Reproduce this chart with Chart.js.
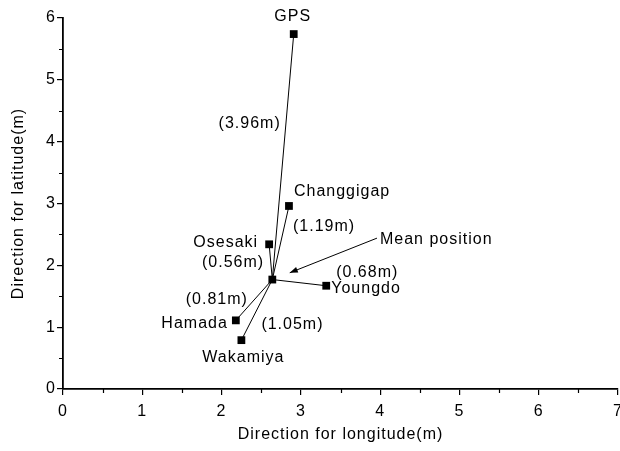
<!DOCTYPE html>
<html>
<head>
<meta charset="utf-8">
<script src="https://cdn.jsdelivr.net/npm/chart.js@4.4.1/dist/chart.umd.min.js"></script>
<style>
  html, body { margin: 0; padding: 0; background: #fff; }
  canvas { display: block; }
</style>
</head>
<body>
<canvas id="posChart" width="620" height="451"></canvas>
<script>
// station positions (m)
const stationNames = ['GPS', 'Changgigap', 'Osesaki', 'Youngdo', 'Hamada', 'Wakamiya'];
const stationLon = [2.91, 2.85, 2.60, 3.32, 2.18, 2.25];
const stationLat = [5.74, 2.96, 2.34, 1.67, 1.11, 0.79];
const errorLabels = ['(3.96m)', '(1.19m)', '(0.56m)', '(0.68m)', '(0.81m)', '(1.05m)'];

const meanLon = [2.64];
const meanLat = [1.77];

// arrow from the "Mean position" note to the mean point
const arrowLon = [3.96, 2.86];
const arrowLat = [2.44, 1.88];

const xTicks = [0, 1, 2, 3, 4, 5, 6, 7];
const yTicks = [0, 1, 2, 3, 4, 5, 6];

const FONT = 'Liberation Sans, Arial, sans-serif';

// label placement in pixels relative to each station marker
const nameOffsets = [
  { dx: -1, dy: -17, align: 'center' },
  { dx: 5, dy: -14, align: 'left' },
  { dx: -11, dy: -2, align: 'right' },
  { dx: 5, dy: 3, align: 'left' },
  { dx: -8, dy: 3, align: 'right' },
  { dx: 2, dy: 17, align: 'center' }
];
const errOffsets = [
  { dx: -13, dy: 90, align: 'right' },
  { dx: 4, dy: 21, align: 'left' },
  { dx: -5, dy: 18, align: 'right' },
  { dx: 41, dy: -13, align: 'center' },
  { dx: 12, dy: -21, align: 'right' },
  { dx: 20, dy: -16, align: 'left' }
];

const stationPoints = stationNames.map((n, i) => ({ x: stationLon[i], y: stationLat[i] }));
const meanPoint = { x: meanLon[0], y: meanLat[0] };

const datasets = [{
  label: 'stations',
  data: stationPoints.concat([meanPoint]),
  pointStyle: 'rect',
  pointRadius: 5.5,
  backgroundColor: '#000',
  borderColor: '#000',
  borderWidth: 0,
  showLine: false
}];

stationPoints.forEach((p, i) => {
  datasets.push({
    label: stationNames[i] + ' line',
    data: [meanPoint, p],
    showLine: true,
    borderColor: '#000',
    borderWidth: 1,
    pointRadius: 0
  });
});

datasets.push({
  label: 'arrow',
  data: [{ x: arrowLon[0], y: arrowLat[0] }, { x: arrowLon[1], y: arrowLat[1] }],
  showLine: true,
  borderColor: '#000',
  borderWidth: 1,
  pointRadius: 0
});

const spacing = {
  id: 'spacing',
  beforeLayout(chart) { chart.ctx.letterSpacing = '1px'; },
  beforeDraw(chart) { chart.ctx.letterSpacing = '1px'; }
};

const extras = {
  id: 'extras',
  afterDraw(chart) {
    const ctx = chart.ctx;
    const xs = chart.scales.x, ys = chart.scales.y;
    const area = chart.chartArea;
    ctx.save();
    ctx.letterSpacing = '1px';

    // minor ticks
    ctx.strokeStyle = '#000';
    ctx.lineWidth = 1.2;
    ctx.beginPath();
    for (let v = 0.5; v < 7; v += 1) {
      const px = Math.round(xs.getPixelForValue(v)) + 0.5;
      ctx.moveTo(px, area.bottom);
      ctx.lineTo(px, area.bottom + 4);
    }
    for (let v = 0.5; v < 6; v += 1) {
      const py = Math.round(ys.getPixelForValue(v)) + 0.5;
      ctx.moveTo(area.left, py);
      ctx.lineTo(area.left - 4, py);
    }
    ctx.stroke();

    // arrow head
    const x0 = xs.getPixelForValue(arrowLon[0]), y0 = ys.getPixelForValue(arrowLat[0]);
    const x1 = xs.getPixelForValue(arrowLon[1]), y1 = ys.getPixelForValue(arrowLat[1]);
    const a = Math.atan2(y1 - y0, x1 - x0);
    ctx.fillStyle = '#000';
    ctx.beginPath();
    ctx.moveTo(x1, y1);
    ctx.lineTo(x1 - 8 * Math.cos(a) + 3 * Math.sin(a), y1 - 8 * Math.sin(a) - 3 * Math.cos(a));
    ctx.lineTo(x1 - 8 * Math.cos(a) - 3 * Math.sin(a), y1 - 8 * Math.sin(a) + 3 * Math.cos(a));
    ctx.closePath();
    ctx.fill();

    // text labels
    ctx.font = '16px ' + FONT;
    ctx.textBaseline = 'middle';
    stationNames.forEach((name, i) => {
      const px = xs.getPixelForValue(stationLon[i]);
      const py = ys.getPixelForValue(stationLat[i]);
      let o = nameOffsets[i];
      ctx.textAlign = o.align;
      ctx.fillText(name, px + o.dx, py + o.dy);
      o = errOffsets[i];
      ctx.textAlign = o.align;
      ctx.fillText(errorLabels[i], px + o.dx, py + o.dy);
    });
    ctx.textAlign = 'left';
    ctx.fillText('Mean position', x0 + 3, y0 + 1);
    ctx.restore();
  }
};

new Chart(document.getElementById('posChart'), {
  type: 'scatter',
  data: { datasets: datasets },
  options: {
    responsive: false,
    devicePixelRatio: 1,
    animation: false,
    events: [],
    layout: { autoPadding: false, padding: { top: 18, right: 2, left: 0, bottom: 0 } },
    plugins: { legend: { display: false }, tooltip: { enabled: false } },
    scales: {
      x: {
        type: 'linear',
        min: 0,
        max: 7,
        afterBuildTicks(s) { s.ticks = xTicks.map(v => ({ value: v })); },
        afterFit(s) { s.height = 62; s.paddingLeft = 0; s.paddingRight = 0; },
        border: { display: true, color: '#000', width: 1.8 },
        grid: { display: true, drawOnChartArea: false, drawTicks: true, tickLength: 6, color: '#000', lineWidth: 1.2 },
        ticks: { color: '#000', font: { family: FONT, size: 16 }, padding: 7, maxRotation: 0, autoSkip: false },
        title: {
          display: true,
          text: 'Direction for longitude(m)',
          color: '#000',
          font: { family: FONT, size: 16 },
          padding: { top: 0, bottom: 7 }
        }
      },
      y: {
        type: 'linear',
        min: 0,
        max: 6,
        afterBuildTicks(s) { s.ticks = yTicks.map(v => ({ value: v })); },
        afterFit(s) { s.width = 63; s.paddingTop = 0; s.paddingBottom = 0; },
        border: { display: true, color: '#000', width: 1.8 },
        grid: { display: true, drawOnChartArea: false, drawTicks: true, tickLength: 6, color: '#000', lineWidth: 1.2 },
        ticks: { color: '#000', font: { family: FONT, size: 16 }, padding: 1 },
        title: {
          display: true,
          text: 'Direction for latitude(m)',
          color: '#000',
          font: { family: FONT, size: 16 },
          padding: { top: 9, bottom: 0 }
        }
      }
    }
  },
  plugins: [spacing, extras]
});
</script>
</body>
</html>
